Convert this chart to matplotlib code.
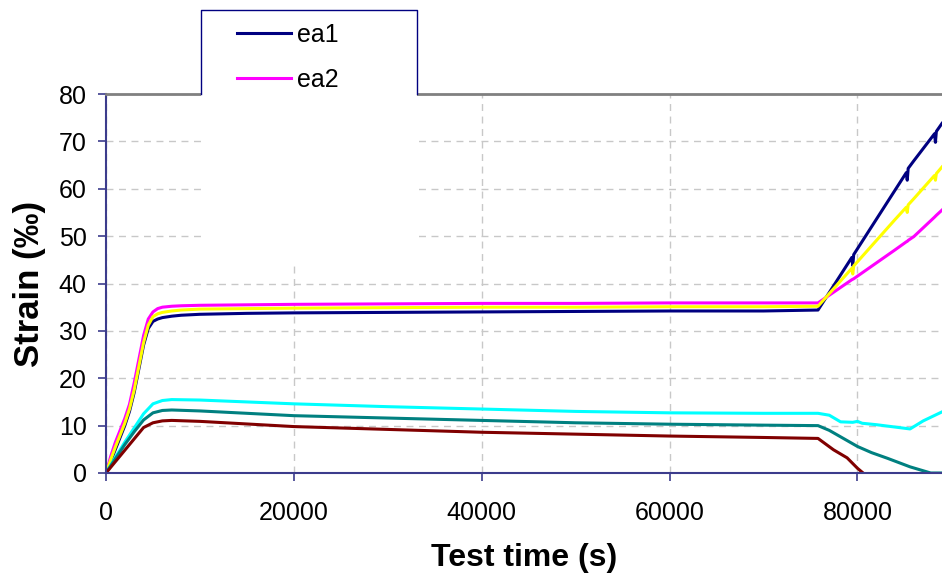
import matplotlib.pyplot as plt
from matplotlib.patches import Rectangle
from matplotlib.lines import Line2D

plt.rcParams['font.family'] = ['Liberation Sans', 'DejaVu Sans']

# axial strains (upper group)
t_ea = [0, 500, 1000, 1500, 2000, 2500, 3000, 3500, 4000, 4500, 5000, 5500, 6000, 7000,
        8000, 10000, 15000, 20000, 30000, 40000, 50000, 60000, 70000, 75800,
        79400, 79500, 79600, 84000, 85200, 85300, 85400, 86000, 88200, 88300, 88400, 89000]
ea1 = [0, 2.5, 5, 7.5, 10, 13, 17, 22, 27, 30.5, 32, 32.5, 32.8, 33.1,
       33.3, 33.5, 33.7, 33.8, 33.9, 34.0, 34.1, 34.2, 34.2, 34.4,
       45.5, 43.8, 46.1, 59.7, 63.4, 61.8, 64.3, 65.9, 71.6, 69.8, 72.1, 73.8]
ea2 = [0, 3.5, 6.5, 9, 11.5, 14.5, 19, 24, 29, 32.5, 34, 34.7, 35, 35.2,
       35.3, 35.4, 35.5, 35.6, 35.7, 35.8, 35.8, 35.9, 35.9, 35.9,
       40.8, 40.9, 41.0, 47.1, 48.8, 48.9, 49.1, 49.9, 54.0, 54.2, 54.4, 55.5]
ea3 = [0, 2.8, 5.5, 8, 10.5, 13.5, 17.5, 22.5, 27.5, 31.2, 33, 33.6, 33.9, 34.2,
       34.4, 34.6, 34.7, 34.8, 34.9, 35.0, 35.0, 35.1, 35.1, 35.2,
       43.2, 42.0, 43.7, 53.5, 56.1, 55.0, 56.6, 57.9, 62.8, 61.8, 63.2, 64.6]

# lower group
t_c = [0, 1000, 2000, 3000, 4000, 5000, 6000, 7000, 10000, 20000, 30000, 40000, 50000,
       60000, 70000, 75800, 77000, 78200, 79500, 80000, 80500, 82000, 83600, 85600, 87000, 89000]
er_cyan = [0, 3.3, 6.5, 9.5, 12.5, 14.6, 15.3, 15.5, 15.4, 14.6, 14.0, 13.5, 13.0,
           12.7, 12.6, 12.6, 12.2, 10.8, 10.7, 10.9, 10.5, 10.2, 9.8, 9.3, 11.0, 12.9]
t_t = [0, 1000, 2000, 3000, 4000, 5000, 6000, 7000, 10000, 20000, 30000, 40000, 50000,
       60000, 70000, 75800, 77000, 78500, 80000, 81500, 83200, 85600, 87800, 89000]
er_teal = [0, 3, 6, 8.7, 11.2, 12.7, 13.2, 13.3, 13.1, 12.1, 11.6, 11.1, 10.6,
           10.3, 10.1, 10.0, 9.0, 7.3, 5.6, 4.3, 3.1, 1.3, 0.0, 0.0]
t_r = [0, 1000, 2000, 3000, 4000, 5000, 6000, 7000, 10000, 20000, 30000, 40000, 50000,
       60000, 70000, 75800, 77450, 78900, 80000, 80600]
er_red = [0, 2.4, 4.8, 7.2, 9.6, 10.6, 11.0, 11.1, 10.9, 9.8, 9.2, 8.6, 8.2,
          7.8, 7.5, 7.3, 4.9, 3.2, 1.0, 0.0]

fig = plt.figure(figsize=(9.42, 5.81), dpi=100)
ax = fig.add_axes([106/942, 1 - 473/581, 1 - 106/942, (473 - 94)/581])

lw = 2.2
l1, = ax.plot(t_ea, ea1, color='#000080', lw=lw, label='ea1')
l2, = ax.plot(t_ea, ea2, color='#FF00FF', lw=lw, label='ea2')
ax.plot(t_ea, ea3, color='#FFFF00', lw=lw)
ax.plot(t_c, er_cyan, color='#00FFFF', lw=lw)
ax.plot(t_t, er_teal, color='#008080', lw=lw)
ax.plot(t_r, er_red, color='#800000', lw=lw)

ax.set_xlim(0, 89000)
ax.set_ylim(0, 80)
ax.set_xticks([0, 20000, 40000, 60000, 80000])
ax.set_yticks(range(0, 81, 10))
ax.grid(True, color='#c8c8c8', linestyle=(0, (5, 4)), lw=1)
ax.set_axisbelow(True)

for s in ['left', 'bottom']:
    ax.spines[s].set_color('#3c3c8c')
    ax.spines[s].set_linewidth(1.5)
ax.spines['top'].set_color('#808080')
ax.spines['top'].set_linewidth(2)
ax.spines['right'].set_visible(False)
ax.tick_params(axis='both', direction='out', length=6, width=1.2, color='#3c3c8c',
               labelsize=18, labelcolor='black')
ax.tick_params(axis='y', pad=8)
ax.tick_params(axis='x', pad=14)

ax.set_xlabel('Test time (s)', fontsize=23, fontweight='bold', labelpad=13)
ax.set_ylabel('Strain (‰)', fontsize=25, fontweight='bold', labelpad=9)

# legend box sticking out above the plot area
fig.add_artist(Rectangle((201/942, 1 - 265/581), 216/942, 255/581,
                         transform=fig.transFigure, facecolor='white', edgecolor='none', zorder=1))
fig.add_artist(Line2D([201/942, 201/942, 417/942, 417/942],
                      [1 - 94/581, 1 - 10/581, 1 - 10/581, 1 - 94/581],
                      transform=fig.transFigure, color='#000080', lw=1, zorder=2))
fig.legend(handles=[l1, l2], loc='upper left', bbox_to_anchor=(237/942, 1 - 23/581),
           bbox_transform=fig.transFigure, frameon=False, fontsize=18,
           handlelength=2.15, handletextpad=0.25, labelspacing=0.84,
           borderpad=0, borderaxespad=0)

fig.savefig('out.png', dpi=100)
